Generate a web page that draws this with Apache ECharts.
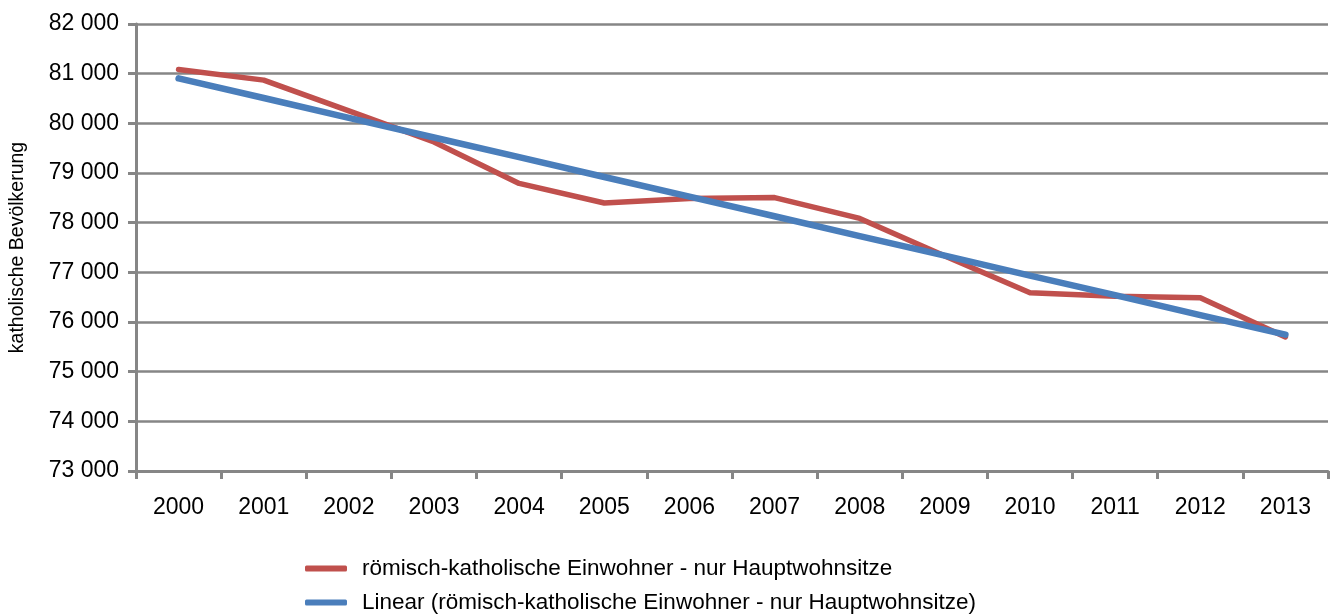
<!DOCTYPE html>
<html>
<head>
<meta charset="utf-8">
<script src="https://cdn.jsdelivr.net/npm/echarts@6/dist/echarts.min.js"></script>
<style>
  html, body { margin: 0; padding: 0; background: #fff; }
  #chart { width: 1335px; height: 614px; }
</style>
</head>
<body>
<div id="chart"></div>
<script>
const years = ['2000', '2001', '2002', '2003', '2004', '2005', '2006', '2007', '2008', '2009', '2010', '2011', '2012', '2013']
const katholiken = [81085, 80870, 80250, 79625, 78790, 78395, 78485, 78505, 78085, 77330, 76590, 76520, 76490, 75700]
const trend = [80905, 80510, 80110, 79715, 79320, 78920, 78525, 78130, 77730, 77335, 76935, 76540, 76140, 75745]
const nameRed = 'römisch-katholische Einwohner - nur Hauptwohnsitze'
const nameBlue = 'Linear (römisch-katholische Einwohner - nur Hauptwohnsitze)'

const chart = echarts.init(document.getElementById('chart'))
const gray = '#868686'

// zwei Legenden untereinander, sonst bricht ECharts die vertikale Legende um
function legendFor(name, top) {
  return {
    orient: 'vertical',
    left: 305,
    top: top,
    padding: 0,
    itemWidth: 42,
    itemHeight: 6,
    icon: 'roundRect',
    textStyle: { fontSize: 22.5, color: '#000', padding: [0, 0, 0, 10] },
    data: [name]
  }
}

const option = {
  animation: false,
  textStyle: { fontFamily: 'Liberation Sans, Arial, sans-serif' },
  legend: [legendFor(nameRed, 557), legendFor(nameBlue, 591)],
  grid: {
    left: 136,
    right: 7,
    top: 24,
    bottom: 143
  },
  xAxis: {
    type: 'category',
    data: years,
    boundaryGap: true,
    axisLine: { lineStyle: { color: gray, width: 3 } },
    axisTick: { show: true, length: 8, lineStyle: { color: gray, width: 3 } },
    axisLabel: { color: '#000', fontSize: 23, margin: 25 }
  },
  yAxis: {
    type: 'value',
    min: 73000,
    max: 82000,
    interval: 1000,
    name: 'katholische Bevölkerung',
    nameLocation: 'middle',
    nameGap: 108,
    nameTextStyle: { color: '#000', fontSize: 19.5 },
    axisLine: { show: true, lineStyle: { color: gray, width: 3 } },
    axisTick: { show: true, length: 8, lineStyle: { color: gray, width: 3 } },
    axisLabel: {
      color: '#000',
      fontSize: 23,
      margin: 17,
      formatter: v => String(v).replace(/\B(?=(\d{3})+(?!\d))/g, ' ')
    },
    splitLine: { lineStyle: { color: gray, width: 2.5 } }
  },
  series: [
    {
      name: nameRed,
      type: 'line',
      data: katholiken,
      showSymbol: false,
      symbol: 'none',
      itemStyle: { color: '#C0504D' },
      lineStyle: { color: '#C0504D', width: 5.5, cap: 'round', join: 'round' }
    },
    {
      name: nameBlue,
      type: 'line',
      data: trend,
      showSymbol: false,
      symbol: 'none',
      itemStyle: { color: '#4A7EBB' },
      lineStyle: { color: '#4A7EBB', width: 6.5, cap: 'round', join: 'round' }
    }
  ]
}

chart.setOption(option)
</script>
</body>
</html>
